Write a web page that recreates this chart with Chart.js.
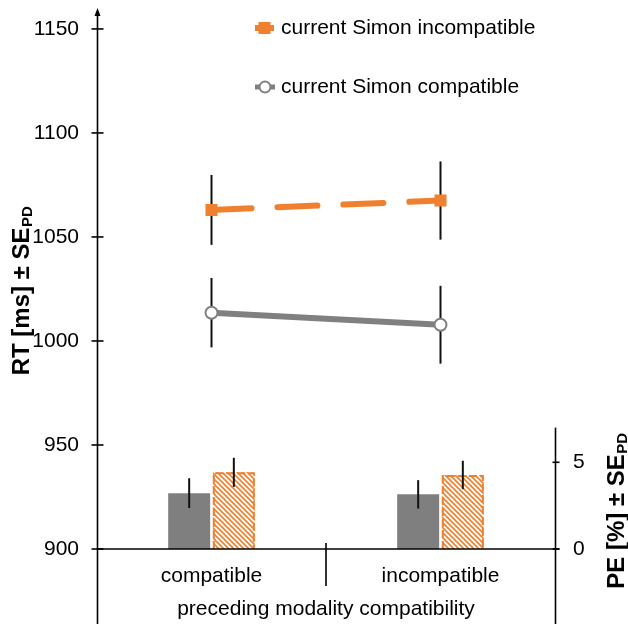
<!DOCTYPE html>
<html><head><meta charset="utf-8">
<script src="https://cdn.jsdelivr.net/npm/chart.js@4"></script>
<style>html,body{margin:0;padding:0;background:#fff;overflow:hidden}</style>
</head><body>
<canvas id="c" width="628" height="624"></canvas>
<script>
// ---- data ----
const categories = ['compatible', 'incompatible'];
const seriesNames = ['current Simon incompatible', 'current Simon compatible'];
const rtIncompatible = [1063, 1067.5];
const rtIncompatibleSE = [16.8, 18.8];
const rtCompatible = [1013.6, 1007.8];
const rtCompatibleSE = [16.7, 18.7];
const peCompatible = [3.22, 3.15];
const peCompatibleSE = [0.86, 0.82];
const peIncompatible = [4.42, 4.27];
const peIncompatibleSE = [0.84, 0.82];
const rtTicks = [900, 950, 1000, 1050, 1100, 1150];
const peTicks = [0, 5];
const xTitle = 'preceding modality compatibility';
const rtTitle = ['RT [ms] \u00b1 SE', 'PD'];
const peTitle = ['PE [%] \u00b1 SE', 'PD'];

const ORANGE = '#F07F2E';
const GRAY = '#808080';
const FONT = 'Liberation Sans, Arial, sans-serif';

function makeHatch(color) {
  const c = document.createElement('canvas'); c.width = 5; c.height = 5;
  const g = c.getContext('2d');
  g.fillStyle = '#fff'; g.fillRect(0, 0, 5, 5);
  g.strokeStyle = color; g.lineWidth = 1.6;
  g.beginPath();
  g.moveTo(-1, -1); g.lineTo(6, 6);
  g.moveTo(-1, 4); g.lineTo(1, 6);
  g.moveTo(4, -1); g.lineTo(6, 1);
  g.stroke();
  return g.createPattern(c, 'repeat');
}

function drawErrors(chart, idx) {
  const ds = chart.data.datasets[idx];
  if (!ds.errors) return;
  const meta = chart.getDatasetMeta(idx);
  const sc = chart.scales[ds.yAxisID];
  const ctx = chart.ctx;
  ctx.save();
  ctx.strokeStyle = '#111'; ctx.lineWidth = 2; ctx.setLineDash([]);
  meta.data.forEach((el, i) => {
    const v = ds.data[i], e = ds.errors[i];
    ctx.beginPath();
    ctx.moveTo(el.x, sc.getPixelForValue(v + e));
    ctx.lineTo(el.x, sc.getPixelForValue(v - e));
    ctx.stroke();
  });
  ctx.restore();
}

function drawRotTitle(ctx, cy, baseX, parts) {
  const mainFont = 'bold 24px ' + FONT, subFont = 'bold 15px ' + FONT;
  ctx.save();
  ctx.font = mainFont; const w1 = ctx.measureText(parts[0]).width;
  ctx.font = subFont; const w2 = ctx.measureText(parts[1]).width;
  const total = w1 + w2;
  ctx.translate(baseX, cy);
  ctx.rotate(-Math.PI / 2);
  ctx.fillStyle = '#000'; ctx.textBaseline = 'alphabetic'; ctx.textAlign = 'left';
  ctx.font = mainFont; ctx.fillText(parts[0], -total / 2, 0);
  ctx.font = subFont; ctx.fillText(parts[1], -total / 2 + w1 + 0.5, 3);
  ctx.restore();
}

function noPad(s) { s.paddingTop = 0; s.paddingBottom = 0; s.paddingLeft = 0; s.paddingRight = 0; }

const decor = {
  id: 'decor',
  beforeDatasetDraw(chart, args) {
    const ds = chart.data.datasets[args.index];
    if (ds.type === 'line') drawErrors(chart, args.index);
  },
  afterDatasetDraw(chart, args) {
    const ds = chart.data.datasets[args.index];
    if (ds.type !== 'bar') return;
    const ctx = chart.ctx;
    if (ds.dashedBorder) {
      ctx.save();
      ctx.strokeStyle = ds.dashedBorder; ctx.lineWidth = 2; ctx.setLineDash([8, 3]);
      args.meta.data.forEach(el => {
        const p = el.getProps(['x', 'y', 'base', 'width'], true);
        const l = p.x - p.width / 2 + 1, r = p.x + p.width / 2 - 1;
        ctx.beginPath();
        ctx.moveTo(l, p.base); ctx.lineTo(l, p.y + 1); ctx.lineTo(r, p.y + 1); ctx.lineTo(r, p.base);
        ctx.stroke();
      });
      ctx.restore();
    }
    drawErrors(chart, args.index);
  },
  afterDraw(chart) {
    const ctx = chart.ctx, ca = chart.chartArea;
    const y = chart.scales.y, y2 = chart.scales.y2, x = chart.scales.x;
    const H = chart.height;
    ctx.save();
    ctx.strokeStyle = '#000'; ctx.fillStyle = '#000'; ctx.lineWidth = 1.6; ctx.setLineDash([]);
    const lx = ca.left + 0.5, rx = ca.right + 0.5, by = y.getPixelForValue(rtTicks[0]);
    // left axis with arrow
    ctx.beginPath(); ctx.moveTo(lx, H); ctx.lineTo(lx, ca.top + 4); ctx.stroke();
    ctx.beginPath(); ctx.moveTo(lx, ca.top - 2); ctx.lineTo(lx - 3, ca.top + 6); ctx.lineTo(lx + 3, ca.top + 6); ctx.closePath(); ctx.fill();
    y.ticks.forEach(t => {
      const py = y.getPixelForValue(t.value);
      ctx.beginPath(); ctx.moveTo(lx - 6, py); ctx.lineTo(lx + 6, py); ctx.stroke();
    });
    // right axis
    ctx.beginPath(); ctx.moveTo(rx, H); ctx.lineTo(rx, y2.getPixelForValue(7)); ctx.stroke();
    y2.ticks.forEach(t => {
      const py = y2.getPixelForValue(t.value);
      ctx.beginPath(); ctx.moveTo(rx - 3, py); ctx.lineTo(rx + 4, py); ctx.stroke();
    });
    // x axis
    ctx.beginPath(); ctx.moveTo(lx, by); ctx.lineTo(rx + 4, by); ctx.stroke();
    const mid = (x.getPixelForValue(0) + x.getPixelForValue(1)) / 2;
    ctx.beginPath(); ctx.moveTo(mid, by - 6); ctx.lineTo(mid, by + 37); ctx.stroke();
    // titles
    drawRotTitle(ctx, 291, 29, rtTitle);
    drawRotTitle(ctx, 511, 624, peTitle);
    // legend
    ctx.font = '21px ' + FONT; ctx.textBaseline = 'middle'; ctx.textAlign = 'left';
    ctx.strokeStyle = ORANGE; ctx.lineWidth = 6;
    ctx.beginPath(); ctx.moveTo(255, 28); ctx.lineTo(274, 28); ctx.stroke();
    ctx.fillStyle = ORANGE; ctx.fillRect(258.5, 22, 12, 12);
    ctx.fillStyle = '#000'; ctx.fillText(seriesNames[0], 281, 28);
    ctx.strokeStyle = GRAY; ctx.lineWidth = 5;
    ctx.beginPath(); ctx.moveTo(255, 87); ctx.lineTo(275, 87); ctx.stroke();
    ctx.beginPath(); ctx.arc(265, 87, 5.5, 0, Math.PI * 2); ctx.fillStyle = '#fff'; ctx.fill();
    ctx.lineWidth = 2; ctx.stroke();
    ctx.fillStyle = '#000'; ctx.fillText(seriesNames[1], 281, 87);
    ctx.restore();
  }
};

const tickFont = { family: FONT, size: 21 };

new Chart(document.getElementById('c'), {
  type: 'bar',
  data: {
    labels: categories,
    datasets: [
      { type: 'bar', label: 'PE ' + seriesNames[1], data: peCompatible, errors: peCompatibleSE, yAxisID: 'y2',
        backgroundColor: '#7F7F7F', borderWidth: 0, categoryPercentage: 0.39, barPercentage: 0.94 },
      { type: 'bar', label: 'PE ' + seriesNames[0], data: peIncompatible, errors: peIncompatibleSE, yAxisID: 'y2',
        backgroundColor: makeHatch(ORANGE), dashedBorder: ORANGE, borderWidth: 0, categoryPercentage: 0.39, barPercentage: 0.94 },
      { type: 'line', label: seriesNames[0], data: rtIncompatible, errors: rtIncompatibleSE, yAxisID: 'y',
        borderColor: ORANGE, borderWidth: 6, borderDash: [40, 26], borderCapStyle: 'round', fill: false, tension: 0,
        pointStyle: 'rect', pointRadius: 8.5, pointBackgroundColor: ORANGE, pointBorderWidth: 0 },
      { type: 'line', label: seriesNames[1], data: rtCompatible, errors: rtCompatibleSE, yAxisID: 'y',
        borderColor: GRAY, borderWidth: 6, fill: false, tension: 0,
        pointStyle: 'circle', pointRadius: 6, pointBackgroundColor: '#fff', pointBorderColor: GRAY, pointBorderWidth: 2 }
    ]
  },
  options: {
    responsive: false, animation: false, devicePixelRatio: 1,
    layout: { padding: { top: 10, left: 0, right: 0, bottom: 0 } },
    plugins: { legend: { display: false }, tooltip: { enabled: false } },
    scales: {
      x: { offset: true, grid: { display: false, drawTicks: false }, border: { display: false },
           ticks: { font: tickFont, color: '#000', padding: 15 },
           title: { display: true, text: xTitle, font: tickFont, color: '#000', padding: { top: 0, bottom: 2 } },
           afterFit(s) { s.height = 75; noPad(s); } },
      y: { position: 'left', min: 900, max: 1159.1, grid: { display: false, drawTicks: false }, border: { display: false },
           afterBuildTicks(s) { s.ticks = rtTicks.map(v => ({ value: v })); },
           ticks: { font: tickFont, color: '#000', padding: 18, callback: v => String(v) },
           afterFit(s) { s.width = 97; noPad(s); } },
      y2: { position: 'right', min: 0, max: 31.08, grid: { display: false, drawTicks: false }, border: { display: false },
            afterBuildTicks(s) { s.ticks = peTicks.map(v => ({ value: v })); },
            ticks: { font: tickFont, color: '#000', padding: 18, callback: v => String(v) },
            afterFit(s) { s.width = 73; noPad(s); } }
    }
  },
  plugins: [decor]
});
</script>
</body></html>
